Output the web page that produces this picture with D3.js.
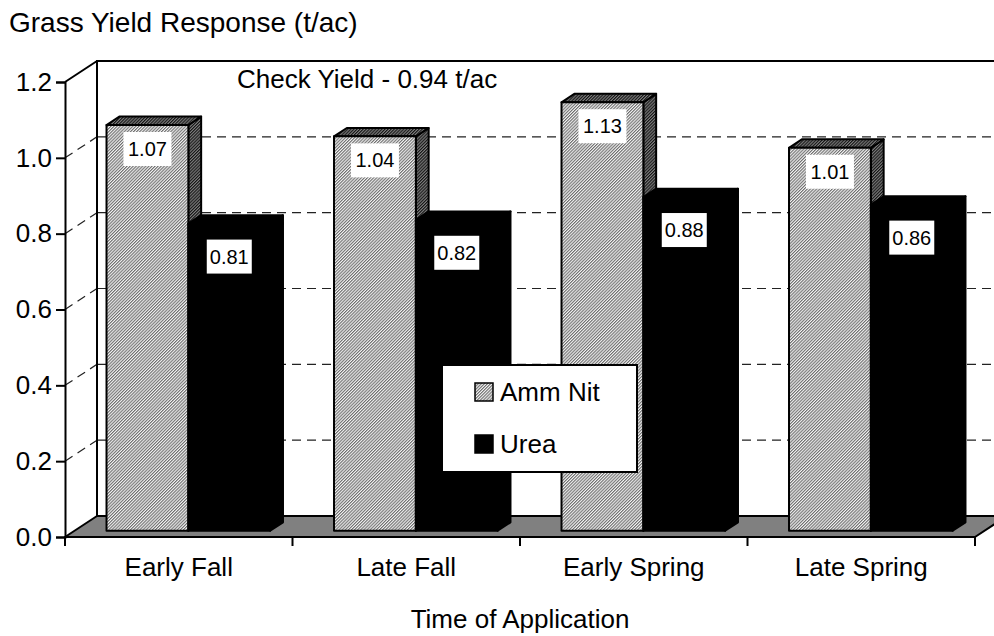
<!DOCTYPE html>
<html>
<head>
<meta charset="utf-8">
<script src="https://cdn.jsdelivr.net/npm/d3@7"></script>
<style>
  body { margin: 0; background: #fff; }
  text { font-family: "Liberation Sans", Arial, sans-serif; fill: #000; }
</style>
</head>
<body>
<div id="chart"></div>
<script>
const categories = ["Early Fall", "Late Fall", "Early Spring", "Late Spring"];
const seriesNames = ["Amm Nit", "Urea"];
const ammNit = [1.07, 1.04, 1.13, 1.01];
const urea = [0.81, 0.82, 0.88, 0.86];
const yTicks = [0.0, 0.2, 0.4, 0.6, 0.8, 1.0, 1.2];
const checkYield = "Check Yield - 0.94 t/ac";

const width = 994, height = 636;
const left = 65, right = 975;
const depth = {dx: 32, dy: -21};
const barDepth = [0.3, 0.7];

const svg = d3.select("#chart").append("svg")
  .attr("width", width)
  .attr("height", height);

const defs = svg.append("defs");
function hatch(id, bg, fg) {
  const p = defs.append("pattern")
    .attr("id", id)
    .attr("patternUnits", "userSpaceOnUse")
    .attr("width", 2.2).attr("height", 2.2)
    .attr("patternTransform", "rotate(45)");
  p.append("rect").attr("width", 2.2).attr("height", 2.2).attr("fill", bg);
  p.append("rect").attr("width", 1.1).attr("height", 2.2).attr("fill", fg);
}
hatch("hatchFront", "#f4f4f4", "#6e6e6e");
hatch("hatchSide", "#808080", "#141414");

const x0 = d3.scaleBand().domain(categories).range([left, right]);
const x1 = d3.scaleBand().domain(seriesNames).range([0, x0.bandwidth()]).paddingOuter(0.39);
const y = d3.scaleLinear().domain([0, 1.2]).range([537, 82]);

// project a point (x, value, depth fraction) to screen
const P = (x, v, d) => [x + depth.dx * d, y(v) + depth.dy * d];
const poly = pts => "M" + pts.map(p => p.join(",")).join("L") + "Z";

// floor
svg.append("path")
  .attr("d", poly([P(left, 0, 0), P(right, 0, 0), P(right, 0, 1), P(left, 0, 1)]))
  .attr("fill", "#808080")
  .attr("stroke", "#000")
  .attr("stroke-width", 2)
  .attr("stroke-linejoin", "round");

// gridlines (back wall + left wall)
const grid = svg.append("g")
  .attr("stroke", "#222")
  .attr("stroke-width", 1.2)
  .attr("stroke-dasharray", "9,6")
  .attr("fill", "none");
yTicks.filter(v => v > 0 && v < 1.2).forEach(v => {
  grid.append("path").attr("d", "M" + P(left, v, 1) + "L" + P(right, v, 1));
  grid.append("path").attr("d", "M" + P(left, v, 0) + "L" + P(left, v, 1));
});

// walls frame
svg.append("path")
  .attr("d", "M" + P(left, 0, 1) + "L" + P(left, 1.2, 1) + "L" + P(right, 1.2, 1)
    + "M" + P(left, 1.2, 0) + "L" + P(left, 1.2, 1))
  .attr("fill", "none")
  .attr("stroke", "#000")
  .attr("stroke-width", 2);

// bars
const values = {"Amm Nit": ammNit, "Urea": urea};
const faceFill = {
  "Amm Nit": {front: "url(#hatchFront)", side: "url(#hatchSide)", top: "url(#hatchSide)"},
  "Urea": {front: "#000", side: "#000", top: "#000"}
};
const labelOffset = {"Amm Nit": 24, "Urea": 33};
const labelWidth = {"Amm Nit": 48, "Urea": 45};

const bars = svg.append("g");
const labels = svg.append("g");
categories.forEach((c, i) => {
  seriesNames.forEach(s => {
    const v = values[s][i];
    const xa = x0(c) + x1(s), xb = xa + x1.bandwidth();
    const [d0, d1] = barDepth;
    const g = bars.append("g")
      .attr("stroke", "#000")
      .attr("stroke-width", 2)
      .attr("stroke-linejoin", "round");
    g.append("path")
      .attr("d", poly([P(xb, 0, d0), P(xb, 0, d1), P(xb, v, d1), P(xb, v, d0)]))
      .attr("fill", faceFill[s].side);
    g.append("path")
      .attr("d", poly([P(xa, v, d0), P(xb, v, d0), P(xb, v, d1), P(xa, v, d1)]))
      .attr("fill", faceFill[s].top);
    g.append("path")
      .attr("d", poly([P(xa, 0, d0), P(xb, 0, d0), P(xb, v, d0), P(xa, v, d0)]))
      .attr("fill", faceFill[s].front);

    const [fx, fy] = P((xa + xb) / 2, v, d0);
    const cy = fy + labelOffset[s];
    labels.append("rect")
      .attr("x", fx - labelWidth[s] / 2)
      .attr("y", cy - 17)
      .attr("width", labelWidth[s])
      .attr("height", 34)
      .attr("fill", "#fff");
    labels.append("text")
      .attr("x", fx)
      .attr("y", cy)
      .attr("dy", "0.35em")
      .attr("text-anchor", "middle")
      .attr("font-size", 20)
      .text(d3.format(".2f")(v));
  });
});

// front axes
const yAxis = svg.append("g")
  .attr("transform", `translate(${left},0)`)
  .call(d3.axisLeft(y).tickValues(yTicks).tickFormat(d3.format(".1f")).tickSize(9).tickPadding(4));
yAxis.select(".domain").attr("stroke", "#000").attr("stroke-width", 2);
yAxis.selectAll(".tick line").attr("stroke", "#000").attr("stroke-width", 2);
yAxis.selectAll(".tick text").attr("font-size", 26).attr("font-family", null);

const xAxis = svg.append("g")
  .attr("transform", `translate(0,${y(0)})`);
xAxis.append("path")
  .attr("d", `M${left},0H${right}`)
  .attr("stroke", "#000")
  .attr("stroke-width", 2);
xAxis.selectAll("line.tick")
  .data(categories.map(c => x0(c)).concat([right]))
  .join("line")
  .attr("x1", d => d).attr("x2", d => d)
  .attr("y1", 0).attr("y2", 9)
  .attr("stroke", "#000")
  .attr("stroke-width", 2);
xAxis.selectAll("text")
  .data(categories)
  .join("text")
  .attr("x", d => x0(d) + x0.bandwidth() / 2)
  .attr("y", 39)
  .attr("text-anchor", "middle")
  .attr("font-size", 26)
  .text(d => d);

// titles
svg.append("text")
  .attr("x", 9).attr("y", 32)
  .attr("font-size", 28)
  .text("Grass Yield Response (t/ac)");
svg.append("text")
  .attr("x", (left + right) / 2).attr("y", 628)
  .attr("text-anchor", "middle")
  .attr("font-size", 26)
  .text("Time of Application");
svg.append("text")
  .attr("x", 237).attr("y", 88)
  .attr("font-size", 26)
  .text(checkYield);

// legend
const legend = svg.append("g").attr("transform", "translate(442,365)");
legend.append("rect")
  .attr("width", 195).attr("height", 107)
  .attr("fill", "#fff")
  .attr("stroke", "#000")
  .attr("stroke-width", 2);
const legendFill = {"Amm Nit": "url(#hatchFront)", "Urea": "#000"};
seriesNames.forEach((s, i) => {
  const row = legend.append("g").attr("transform", `translate(33,${18 + i * 52})`);
  row.append("rect")
    .attr("width", 18).attr("height", 18)
    .attr("fill", legendFill[s])
    .attr("stroke", "#000")
    .attr("stroke-width", 1.5);
  row.append("text")
    .attr("x", 25).attr("y", 18)
    .attr("font-size", 26)
    .text(s);
});
</script>
</body>
</html>
